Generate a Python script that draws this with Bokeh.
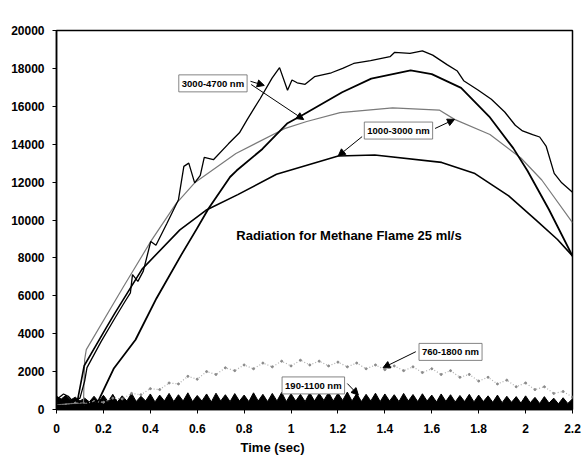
from bokeh.plotting import figure
from bokeh.models import Label, Arrow, NormalHead, FixedTicker, Range1d, Title
from bokeh.embed import file_html
from bokeh.resources import INLINE

# ---- data ----
# 3000-4700 nm, noisy trace
a_x = [0.00, 0.03, 0.05, 0.07, 0.10, 0.12, 0.13, 0.19, 0.25, 0.29, 0.315, 0.324, 0.347, 0.37,
       0.402, 0.424, 0.47, 0.52, 0.543, 0.564, 0.589, 0.613, 0.63, 0.669, 0.733, 0.78, 0.813,
       0.868, 0.919, 0.951, 0.985, 1.004, 1.026, 1.06, 1.10, 1.172, 1.22, 1.267, 1.339, 1.422,
       1.442, 1.507, 1.56, 1.604, 1.665, 1.709, 1.736, 1.797, 1.854, 1.911, 1.956, 1.987, 2.03,
       2.06, 2.088, 2.122, 2.154, 2.20]
a_y = [530, 820, 700, 420, 600, 1500, 2210, 3580, 4840, 5660, 6150, 7120, 6760, 7300,
       8870, 8670, 9800, 11070, 12830, 13000, 11960, 12350, 13300, 13180, 14020, 14600, 15300,
       16400, 17490, 18040, 16850, 17390, 17240, 17160, 17560, 17770, 18000, 18260, 18410, 18620,
       18850, 18790, 18930, 18700, 18200, 17860, 17350, 16860, 16370, 15700, 15000, 14700, 14500,
       14380, 13880, 12460, 11960, 11460]

# 3000-4700 nm, smooth trace
b_x = [0.00, 0.05, 0.10, 0.14, 0.18, 0.245, 0.337, 0.426, 0.532, 0.598, 0.649, 0.74, 0.768,
       0.878, 0.983, 1.053, 1.218, 1.342, 1.51, 1.60, 1.725, 1.845, 1.948, 2.008, 2.10, 2.20]
b_y = [150, 200, 250, 250, 490, 2180, 3680, 5860, 8160, 9530, 10620, 12270, 12610,
       13750, 15090, 15570, 16740, 17460, 17890, 17700, 16970, 15460, 13780, 12600, 10540, 8100]

# 1000-3000 nm, upper (grey) trace
c_x = [0.00, 0.05, 0.10, 0.115, 0.12, 0.127, 0.284, 0.402, 0.509, 0.589, 0.765, 0.972, 1.067,
       1.209, 1.433, 1.632, 1.697, 1.848, 1.98, 2.069, 2.20]
c_y = [270, 300, 330, 350, 2630, 3160, 6450, 8870, 10850, 11960, 13510, 14820, 15200,
       15670, 15920, 15800, 15310, 14510, 13270, 12110, 9860]

# 1000-3000 nm, lower trace
d_x = [0.00, 0.05, 0.09, 0.118, 0.208, 0.247, 0.365, 0.526, 0.637, 0.773, 0.938, 1.201, 1.357,
       1.642, 1.784, 1.928, 2.047, 2.136, 2.20]
d_y = [300, 400, 500, 2310, 4230, 5050, 7410, 9480, 10510, 11340, 12410, 13380, 13430,
       13040, 12450, 11270, 9970, 8970, 8100]

# 760-1800 nm (grey scattered)
e_x = [0.00, 0.04, 0.08, 0.12, 0.16, 0.20, 0.24, 0.28, 0.32, 0.36, 0.40, 0.44, 0.48, 0.52,
       0.56, 0.60, 0.64, 0.68, 0.72, 0.76, 0.80, 0.84, 0.88, 0.92, 0.96, 1.00, 1.04, 1.08,
       1.12, 1.16, 1.20, 1.24, 1.28, 1.32, 1.36, 1.40, 1.44, 1.48, 1.52, 1.56, 1.60, 1.64,
       1.68, 1.72, 1.76, 1.80, 1.84, 1.88, 1.92, 1.96, 2.00, 2.04, 2.08, 2.12, 2.16, 2.20]
e_y = [300, 250, 350, 300, 420, 380, 600, 560, 850, 780, 1100, 1050, 1400, 1350,
       1750, 1600, 2000, 1850, 2200, 2050, 2350, 2150, 2450, 2250, 2550, 2300, 2600, 2350,
       2550, 2300, 2500, 2250, 2450, 2150, 2350, 2100, 2300, 2050, 2250, 1950, 2150, 1850,
       2050, 1700, 1850, 1500, 1700, 1350, 1550, 1200, 1400, 1050, 1200, 850, 950, 650]

# 190-1100 nm (black noisy band), x step 0.02 from 0 to 2.2
f_y = [700, 550, 750, 500, 650, 450, 600, 400,
       700, 400, 750, 420, 800, 400, 720, 450, 850, 420, 700, 450, 820, 400, 760, 450, 850, 420,
       780, 450, 880, 420, 740, 450, 820, 400, 860, 450, 780, 420, 840, 450, 760, 420, 880, 450,
       800, 420, 850, 450, 900, 420, 830, 450, 800, 420, 880, 450, 840, 480, 900, 450, 860, 480,
       920, 450, 840, 420, 800, 450, 860, 420, 820, 450, 780, 420, 850, 450, 790, 420, 830, 450,
       760, 400, 820, 430, 780, 400, 740, 420, 800, 400, 760, 420, 720, 380, 760, 360, 700, 380,
       680, 340, 720, 360, 640, 320, 680, 340, 600, 300, 620, 320, 560]
f_x = [round(i * 0.02, 2) for i in range(len(f_y))]

x_ticks = [0, 0.2, 0.4, 0.6, 0.8, 1, 1.2, 1.4, 1.6, 1.8, 2, 2.2]
x_tick_labels = ["0", "0.2", "0.4", "0.6", "0.8", "1", "1.2", "1.4", "1.6", "1.8", "2", "2.2"]
y_ticks = [0, 2000, 4000, 6000, 8000, 10000, 12000, 14000, 16000, 18000, 20000]

title_text = "Radiation for Methane Flame 25 ml/s"
x_title = "Time (sec)"

FONT = "Liberation Sans"

p = figure(width=582, height=469, output_backend="svg", toolbar_location=None,
           x_range=Range1d(0, 2.2), y_range=Range1d(0, 20000),
           min_border_left=56, min_border_right=10, min_border_top=30, min_border_bottom=60,
           background_fill_color="white", border_fill_color="white")
p.xgrid.visible = False
p.ygrid.visible = False
p.outline_line_color = "black"
p.outline_line_width = 1.5

for ax in (p.xaxis, p.yaxis):
    ax.axis_line_width = 1.5
    ax.axis_line_color = "black"
    ax.major_tick_in = 0
    ax.major_tick_out = 4
    ax.minor_tick_line_color = None
    ax.major_label_text_font = FONT
    ax.major_label_text_font_style = "bold"
    ax.major_label_text_font_size = "12px"
    ax.major_label_text_color = "black"

p.xaxis.ticker = FixedTicker(ticks=x_ticks)
p.xaxis.major_label_overrides = {t: s for t, s in zip(x_ticks, x_tick_labels)}
p.xaxis.major_label_standoff = 10
p.yaxis.ticker = FixedTicker(ticks=y_ticks)
p.yaxis.major_label_standoff = 8

p.add_layout(Title(text=x_title, align="left", offset=184, standoff=4,
                   text_font=FONT, text_font_style="bold", text_font_size="13px",
                   text_color="black"), "below")

# black noisy band (190-1100 nm)
p.varea(x=f_x, y1=[0] * len(f_x), y2=f_y, fill_color="black")
p.line(f_x, f_y, line_color="black", line_width=1)

# grey scattered (760-1800 nm)
p.line(e_x, e_y, line_color="#b0b0b0", line_width=1.2, line_dash="1 2")
p.scatter(e_x, e_y, size=2, color="#8a8a8a")

# main traces
p.line(c_x, c_y, line_color="#7a7a7a", line_width=1.2)
p.line(d_x, d_y, line_color="black", line_width=1.6)
p.line(b_x, b_y, line_color="black", line_width=1.8)
p.line(a_x, a_y, line_color="black", line_width=1.3)

def box(x, y, text):
    p.add_layout(Label(x=x, y=y, text=text, text_align="center", text_baseline="middle",
                       text_font=FONT, text_font_style="bold", text_font_size="9.5px",
                       text_color="black", border_line_color="#666666", border_line_width=0.8,
                       background_fill_color="white", padding=3))

def arrow(x0, y0, x1, y1):
    p.add_layout(Arrow(end=NormalHead(size=7, fill_color="black", line_color="black"),
                       x_start=x0, y_start=y0, x_end=x1, y_end=y1,
                       line_color="black", line_width=1))

arrow(0.827, 17320, 0.886, 17100)
arrow(0.83, 17150, 1.054, 15300)
box(0.667, 17210, "3000-4700 nm")

arrow(1.303, 14400, 1.201, 13380)
arrow(1.614, 14830, 1.697, 15310)
box(1.458, 14720, "1000-3000 nm")

arrow(1.532, 3050, 1.392, 2200)
box(1.68, 3040, "760-1800 nm")

arrow(1.24, 1370, 1.287, 760)
box(1.095, 1270, "190-1100 nm")

p.add_layout(Label(x=1.247, y=9170, text=title_text, text_align="center", text_baseline="middle",
                   text_font=FONT, text_font_style="bold", text_font_size="13px", text_color="black"))

open("out.html", "w").write(file_html(p, INLINE))
